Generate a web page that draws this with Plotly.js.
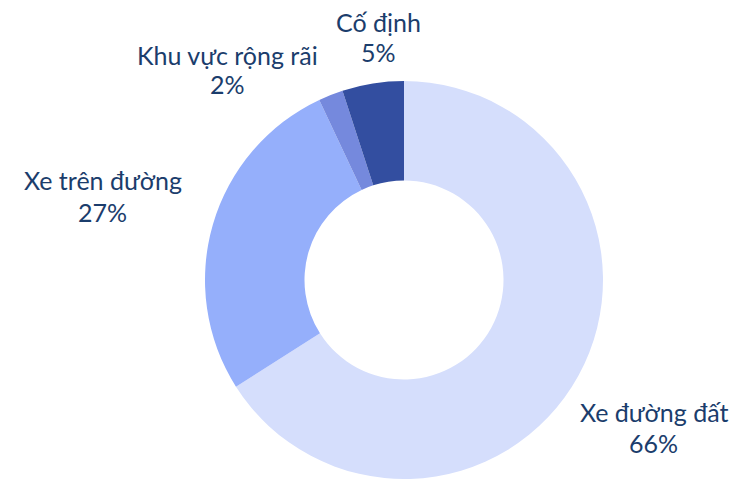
<!DOCTYPE html>
<html><head><meta charset="utf-8">
<script src="https://cdn.plot.ly/plotly-3.0.1.min.js"></script>
<style>html,body{margin:0;padding:0;background:#fff}</style>
</head><body>
<div id="chart" style="width:733px;height:479px"></div>
<script>
const labels = ["Xe đường đất", "Xe trên đường", "Khu vực rộng rãi", "Cố định"];
const values = [66, 27, 2, 5];
const colors = ["#d5defc", "#95affb", "#7589dd", "#334ea0"];
// label positions in pixels: centre x, name-line centre y, percent-line centre y
const labelPx = [653.5, 102.5, 227.5, 378];
const namePy = [412, 180, 55, 22];
const pctPy = [443, 212, 84, 52];

const W = 733, H = 479;
const total = values.reduce((a, b) => a + b, 0);
const font = {family: "Lato", size: 25, color: "#1b3d6c"};
const annotations = [];
labels.forEach((lab, i) => {
  annotations.push({
    x: labelPx[i] / W, y: 1 - namePy[i] / H, xref: "paper", yref: "paper",
    xanchor: "center", yanchor: "middle", showarrow: false, text: lab, font: font
  });
  annotations.push({
    x: labelPx[i] / W, y: 1 - pctPy[i] / H, xref: "paper", yref: "paper",
    xanchor: "center", yanchor: "middle", showarrow: false,
    text: Math.round(values[i] / total * 100) + "%", font: font
  });
});

Plotly.newPlot("chart", [{
  type: "pie",
  labels: labels,
  values: values,
  hole: 0.5,
  sort: false,
  direction: "clockwise",
  rotation: 0,
  domain: {x: [205 / W, 603 / W], y: [0, 398 / H]},
  marker: {colors: colors, line: {width: 0}},
  textinfo: "none",
  showlegend: false,
  hoverinfo: "none"
}], {
  width: W, height: H,
  margin: {l: 0, r: 0, t: 0, b: 0},
  paper_bgcolor: "#fff",
  font: {family: "Lato"},
  annotations: annotations
}, {displayModeBar: false, staticPlot: true});
</script>
</body></html>
